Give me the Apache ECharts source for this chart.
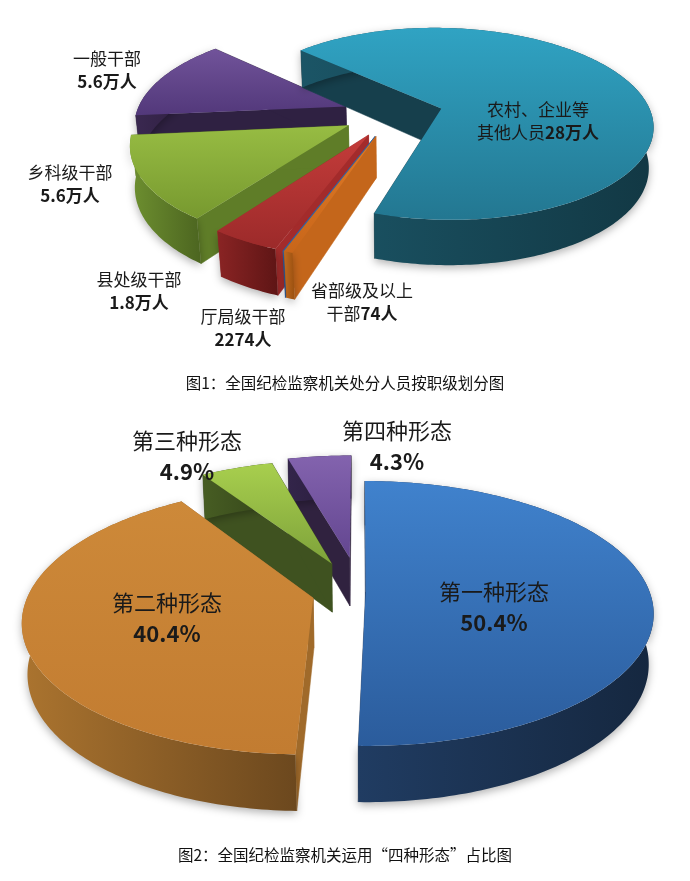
<!DOCTYPE html>
<html>
<head>
<meta charset="utf-8">
<title>纪检监察 3D 饼图</title>
<script src="https://cdn.jsdelivr.net/npm/echarts@6/dist/echarts.min.js"></script>
<style>html,body{margin:0;padding:0;background:#fff;}</style>
</head>
<body>
<div id="main" style="width:690px;height:881px;"></div>
<script type="text/javascript">
// 图1：按职级划分（人）
var rankNames = ['省部级及以上干部', '县处级干部', '乡科级干部', '一般干部', '农村、企业等其他人员', '厅局级干部'];
var rankValues = [74, 18000, 56000, 56000, 280000, 2274];
// 图2：四种形态占比（%）
var formNames = ['第一种形态', '第二种形态', '第三种形态', '第四种形态'];
var formValues = [50.4, 40.4, 4.9, 4.3];
var captions = ['图1：全国纪检监察机关处分人员按职级划分图', '图2：全国纪检监察机关运用“四种形态”占比图'];

var CJK = '"Noto Sans CJK SC", "Microsoft YaHei", sans-serif';

// 外观：透视参数、爆炸距离、颜色、标签位置
var rankPie = {
    cx: 393, cy: 114, r: 210, dist: 5.5, tilt: 27, thick: 0.22, start: 110,
    explode: [0.24, 0.24, 0.24, 0.24, 0.24, 0.24],
    colors: [
        { top: ['#3b78c0', '#2a5d9c'], wall: ['#2a5a96', '#1e4475'], face: '#2d62a6' },
        { top: ['#c43c3a', '#9c2a2a'], wall: ['#8a2424', '#5e1515'], face: '#a32b2b' },
        { top: ['#97bc43', '#77992f'], wall: ['#6e9030', '#4c6520'], face: '#5f7d28' },
        { top: ['#71539a', '#52387a'], wall: ['#3a2850', '#281a38'], face: '#2f2142' },
        { top: ['#30a3c3', '#237791'], wall: ['#1b5566', '#123844'], face: '#163f4c' },
        { top: ['#e07a26', '#c8661a'], wall: ['#c06a1e', '#9a5010'], face: '#c4661b' }
    ],
    labelPos: [[362, 302], [139, 291], [70, 184], [107, 70], [538, 121], [243, 328]],
    fontSize: 17, lineHeight: 23
};
var formPie = {
    cx: 360, cy: 592, r: 284, dist: 5.5, tilt: 27, thick: 0.2, start: 270,
    explode: [0.02, 0.17, 0.25, 0.28],
    colors: [
        { top: ['#4082cd', '#2b5c9c'], wall: ['#203c62', '#15273f'], face: '#1c3354' },
        { top: ['#cd8939', '#c27c31'], wall: ['#ab742f', '#6c481e'], face: '#a06a2a' },
        { top: ['#a8cf4e', '#7ea23a'], wall: ['#475d23', '#35461a'], face: '#3f5220' },
        { top: ['#8363ae', '#634690'], wall: ['#33254a', '#271b3a'], face: '#30223f' }
    ],
    labelPos: [[494, 607], [167, 618], [187, 456], [397, 446]],
    fontSize: 22, lineHeight: 31
};

function project(p, X, Y, Z) {
    var phi = p.tilt * Math.PI / 180;
    var up = Y * Math.cos(phi) - Z * Math.sin(phi);
    var depth = p.dist - (Y * Math.sin(phi) + Z * Math.cos(phi));
    var f = p.r * p.dist;
    return [p.cx + f * X / depth, p.cy - f * up / depth];
}

function spans(values, start) {
    var total = values.reduce(function (s, v) { return s + v; }, 0);
    var acc = start, out = [];
    values.forEach(function (v) {
        var a = v / total * 360;
        out.push([acc, acc + a]);
        acc += a;
    });
    return out;
}

function rankLabel(name, v) {
    var num = v >= 10000 ? (v / 10000) + '万人' : v + '人';
    if (name.length > 5) {
        return '{n|' + name.slice(0, 6) + '}\n{n|' + name.slice(6) + '}{v|' + num + '}';
    }
    return '{n|' + name + '}\n{v|' + num + '}';
}
function formLabel(name, v) {
    return '{n|' + name + '}\n{v|' + v.toFixed(1) + '%}';
}

function makeRender(p, values, names, labelFn) {
    var sp = spans(values, p.start);
    var rad = Math.PI / 180;
    var depthKey = sp.map(function (s, i) {
        return Math.sin((s[0] + s[1]) / 2 * rad) * p.explode[i];
    });
    var sorted = depthKey.map(function (d, i) { return i; }).sort(function (a, b) { return depthKey[a] - depthKey[b]; });
    var rank = [];
    sorted.forEach(function (idx, k) { rank[idx] = k; });

    return function (params, api) {
        var i = params.dataIndex;
        var v = api.value(0);
        var a0 = sp[i][0], a1 = sp[i][1];
        var mid = (a0 + a1) / 2 * rad;
        var ex = Math.cos(mid) * p.explode[i], ez = Math.sin(mid) * p.explode[i];
        var t = p.thick;
        function pt(a, y, rr) {
            return project(p, ex + rr * Math.cos(a), y, ez + rr * Math.sin(a));
        }
        var steps = Math.max(1, Math.ceil((a1 - a0) / 1));
        var topArc = [], botArc = [];
        for (var k = 0; k <= steps; k++) {
            var a = (a0 + (a1 - a0) * k / steps) * rad;
            topArc.push(pt(a, 0, 1));
            botArc.push(pt(a, -t, 1));
        }
        var c0 = pt(0, 0, 0), c1 = pt(0, -t, 0);
        var col = p.colors[i];
        var z = rank[i] * 10;
        var n = topArc.length - 1;
        var children = [
            {
                type: 'polygon', z2: z,
                shape: { points: [c0, topArc[0], botArc[0], c1] },
                style: { fill: col.face, stroke: col.face, lineWidth: 0.5 }
            },
            {
                type: 'polygon', z2: z,
                shape: { points: [c0, topArc[n], botArc[n], c1] },
                style: { fill: col.face, stroke: col.face, lineWidth: 0.5 }
            },
            {
                type: 'polygon', z2: z + 1,
                shape: { points: topArc.concat(botArc.slice().reverse()) },
                style: {
                    fill: new echarts.graphic.LinearGradient(0, 0, 1, 0, [
                        { offset: 0, color: col.wall[0] }, { offset: 1, color: col.wall[1] }
                    ]),
                    shadowBlur: 8, shadowColor: 'rgba(0,0,0,0.3)', shadowOffsetY: 3
                }
            },
            {
                type: 'polygon', z2: z + 2,
                shape: { points: [c0].concat(topArc) },
                style: {
                    fill: new echarts.graphic.LinearGradient(0, 0, 0, 1, [
                        { offset: 0, color: col.top[0] }, { offset: 1, color: col.top[1] }
                    ])
                }
            },
            {
                type: 'text', z2: 1000,
                style: {
                    text: labelFn(names[i], v),
                    x: p.labelPos[i][0], y: p.labelPos[i][1],
                    align: 'center', verticalAlign: 'middle',
                    rich: {
                        n: { fontSize: p.fontSize, fontFamily: CJK, fill: '#1a1a1a', lineHeight: p.lineHeight },
                        v: { fontSize: p.fontSize, fontFamily: CJK, fontWeight: 'bold', fill: '#1a1a1a', lineHeight: p.lineHeight }
                    }
                }
            }
        ];
        return { type: 'group', children: children };
    };
}

var myChart = echarts.init(document.getElementById('main'));
var option = {
    backgroundColor: '#ffffff',
    animation: false,
    series: [
        {
            type: 'custom',
            coordinateSystem: 'none',
            renderItem: makeRender(rankPie, rankValues, rankNames, rankLabel),
            data: rankValues.map(function (v, i) { return { name: rankNames[i], value: [v] }; })
        },
        {
            type: 'custom',
            coordinateSystem: 'none',
            renderItem: makeRender(formPie, formValues, formNames, formLabel),
            data: formValues.map(function (v, i) { return { name: formNames[i], value: [v] }; })
        }
    ],
    graphic: [
        {
            type: 'text', left: 'center', top: 375,
            style: { text: captions[0], font: '15.5px ' + CJK, fill: '#111' }
        },
        {
            type: 'text', left: 'center', top: 847,
            style: { text: captions[1], font: '15.5px ' + CJK, fill: '#111' }
        }
    ]
};
myChart.setOption(option);
</script>
</body>
</html>
